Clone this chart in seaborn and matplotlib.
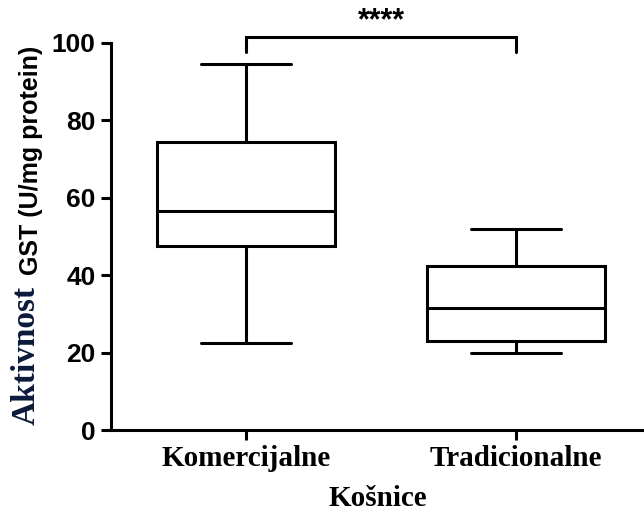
import numpy as np
import pandas as pd
import matplotlib
matplotlib.use("Agg")
import matplotlib.pyplot as plt
import seaborn as sns

# five-number summaries: min, Q1, median, Q3, max
komercijalne = [22.5, 47.5, 56.5, 74.5, 94.5]
tradicionalne = [20.0, 23.0, 31.5, 42.5, 52.0]
groups = ["Komercijalne", "Tradicionalne"]
yticks = [0, 20, 40, 60, 80, 100]
stars = "****"

df = pd.DataFrame({
    "grupa": [groups[0]] * len(komercijalne) + [groups[1]] * len(tradicionalne),
    "gst": komercijalne + tradicionalne,
})

sns.set_style("ticks")
plt.rcParams.update({"text.color": "black", "axes.labelcolor": "black",
                     "xtick.color": "black", "ytick.color": "black"})
serif = ["Liberation Serif", "DejaVu Serif"]
sans = ["Liberation Sans", "DejaVu Sans"]

fig = plt.figure(figsize=(6.44, 5.13), dpi=100)
ax = fig.add_axes([111 / 644, 83 / 513, 533 / 644, 387 / 513])

lw = 2.2
sns.boxplot(data=df, x="grupa", y="gst", whis=(0, 100), width=0.66,
            color="white", linecolor="black", linewidth=lw, fliersize=0, ax=ax)
for p in ax.patches:
    p.set_facecolor("white")
    p.set_edgecolor("black")

ax.set_ylim(0, 100)
ax.set_xlim(-0.5, 1.474)
ax.set_yticks(yticks)
ax.set_yticklabels([str(t) for t in yticks], family=sans, fontweight="bold",
                   fontsize=19, color="black")
ax.set_xticks([0, 1])
ax.set_xticklabels(groups, family=serif, fontweight="bold", fontsize=21, color="black")
ax.tick_params(axis="both", width=lw, length=7, color="black", pad=4)
sns.despine(ax=ax, top=True, right=True)
for s in ["left", "bottom"]:
    ax.spines[s].set_linewidth(lw)
    ax.spines[s].set_color("black")

ax.set_xlabel("Košnice", family=serif, fontweight="bold", fontsize=21,
              labelpad=9, color="black")
ax.set_ylabel("")

# y label: mixed fonts as in the original
fig.text(26 / 644, 1 - 355 / 513, "Aktivnost", rotation=90, ha="center", va="center",
         family=serif, fontweight="bold", fontsize=24, color="#0b1a3a")
fig.text(31 / 644, 1 - 160 / 513, "GST (U/mg protein)", rotation=90, ha="center",
         va="center", family=sans, fontweight="bold", fontsize=18, color="black")

# significance bracket
ax.plot([0, 0, 1, 1], [97.7, 101.6, 101.6, 97.7], color="black", lw=lw, clip_on=False,
        solid_joinstyle="miter")
ax.text(0.5, 105.5, stars, ha="center", va="center", family=sans, fontweight="bold",
        fontsize=22, color="black", clip_on=False)

fig.savefig("out.png", dpi=100)
